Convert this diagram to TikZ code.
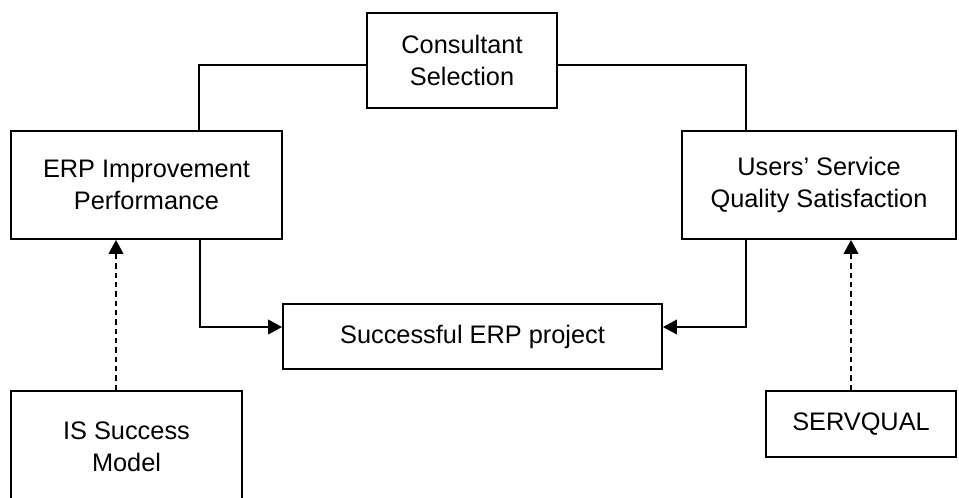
\documentclass[tikz,border=0pt]{standalone}
\usepackage{fontspec}
\setmainfont{Liberation Sans}
\usetikzlibrary{arrows.meta}
\begin{document}
\begin{tikzpicture}[x=0.75pt,y=-0.75pt,line width=1.4pt,
  box/.style={draw,rectangle,align=center,font=\fontsize{19}{24}\selectfont},
  flow/.style={-{Triangle[length=10.5pt,width=11pt]}},
  link/.style={flow,dash pattern=on 4pt off 3pt}]
\useasboundingbox (0,0) rectangle (959,497);
\clip (0,0) rectangle (959,497);

%boxes
\node[box,minimum width=142.5pt,minimum height=71.25pt] (cons) at (462,60.5) {Consultant\\Selection};
\node[box,minimum width=203.25pt,minimum height=81pt] (erp) at (146.5,185) {ERP Improvement\\Performance};
\node[box,minimum width=205.5pt,minimum height=81pt] (usq) at (819,185) {Users’ Service\\Quality Satisfaction};
\node[box,minimum width=284.25pt,minimum height=48.75pt] (succ) at (472.5,336.5) {Successful ERP project};
\node[box,minimum width=173.25pt,minimum height=84pt] (is) at (126.5,447) {IS Success\\Model};
\node[box,minimum width=142.5pt,minimum height=49.5pt] (sq) at (861,424) {SERVQUAL};

%lines from the top
\draw (cons.west |- 0,65) -| (erp.north -| 199,0);
\draw (cons.east |- 0,65) -| (usq.north -| 746,0);

%arrows into the project
\draw[flow] (erp.south -| 200,0) |- (succ.west |- 0,327);
\draw[flow] (usq.south -| 746,0) |- (succ.east |- 0,327);

%dashed links
\draw[link] (is.north -| 116,0) -- (erp.south -| 116,0);
\draw[link] (sq.north -| 851,0) -- (usq.south -| 851,0);

\end{tikzpicture}
\end{document}
